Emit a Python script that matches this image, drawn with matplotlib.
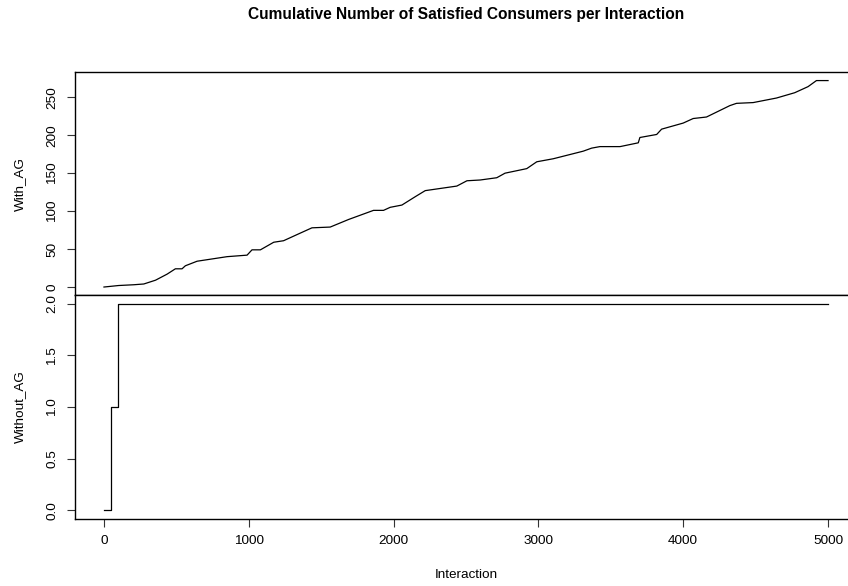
import matplotlib
matplotlib.use('Agg')
import matplotlib.pyplot as plt

plt.rcParams['font.family'] = ['Liberation Sans', 'DejaVu Sans']

# with_AG cumulative count at a set of interactions
with_x = [1, 103, 207, 276, 357, 437, 494, 540, 563, 644, 851, 989, 1023,
          1081, 1173, 1241, 1356, 1437, 1563, 1690, 1862, 1931, 1977, 2058,
          2150, 2219, 2437, 2507, 2598, 2713, 2770, 2920, 2989, 3103, 3310,
          3368, 3425, 3564, 3690, 3701, 3817, 3851, 4000, 4069, 4161, 4322,
          4368, 4483, 4644, 4770, 4862, 4920, 5000]
with_y = [0, 2, 3, 4, 9, 17, 24, 24, 28, 34, 40, 42, 49,
          49, 59, 61, 71, 78, 79, 89, 101, 101, 105, 108,
          119, 127, 133, 140, 141, 144, 150, 156, 165, 169, 179,
          183, 185, 185, 190, 197, 201, 208, 216, 222, 224, 239,
          242, 243, 249, 256, 264, 272, 272]

# without_AG cumulative count (step changes)
without_x = [1, 51, 99, 5000]
without_y = [0, 1, 2, 2]

x_ticks = [0, 1000, 2000, 3000, 4000, 5000]
with_ticks = [0, 50, 100, 150, 200, 250]
without_ticks = [0.0, 0.5, 1.0, 1.5, 2.0]

W, H = 848, 586
fig = plt.figure(figsize=(W / 100, H / 100), dpi=100)

# plot region runs past the right edge of the picture, as in the reference
left = 75 / W
right = 857 / W
top1, mid, bot2 = 72.3, 295.3, 518.7
ax1 = fig.add_axes([left, 1 - mid / H, right - left, (mid - top1) / H])
ax2 = fig.add_axes([left, 1 - bot2 / H, right - left, (bot2 - mid) / H])

xlim = (1 - 200, 5000 + 200)

ax1.plot(with_x, with_y, color='black', lw=0.9)
ax1.set_xlim(*xlim)
ax1.set_ylim(-10.9, 282.9)
ax1.set_xticks([])
ax1.set_yticks(with_ticks)
ax1.set_yticklabels([str(t) for t in with_ticks])

ax2.plot(without_x, without_y, color='black', lw=0.9, drawstyle='steps-post')
ax2.set_xlim(*xlim)
ax2.set_ylim(-0.08, 2.08)
ax2.set_xticks(x_ticks)
ax2.set_xticklabels([str(t) for t in x_ticks])
ax2.set_yticks(without_ticks)
ax2.set_yticklabels(['{:.1f}'.format(t) for t in without_ticks])

for ax in (ax1, ax2):
    for s in ax.spines.values():
        s.set_linewidth(1.0)
        s.set_color('black')
    ax.tick_params(axis='both', direction='out', length=6, width=0.8,
                   colors='#333333', labelcolor='black', labelsize=9.7)
    ax.tick_params(axis='y', pad=6)
    ax.tick_params(axis='x', pad=6)
    for t in ax.get_yticklabels():
        t.set_rotation(90)
        t.set_va('center')

fig.text(20 / W, 1 - (top1 + mid) / 2 / H, 'With_AG', rotation=90,
         ha='center', va='center', fontsize=9.7)
fig.text(20 / W, 1 - (mid + bot2) / 2 / H, 'Without_AG', rotation=90,
         ha='center', va='center', fontsize=9.7)

fig.text(0.5 * (75 + 857) / W, 1 - 575.5 / H, 'Interaction', ha='center',
         va='center', fontsize=9.7)
fig.text(0.5 * (75 + 857) / W, 1 - 15 / H,
         'Cumulative Number of Satisfied Consumers per Interaction',
         ha='center', va='center', fontsize=11.2, fontweight='bold')

fig.savefig('out.png', dpi=100)
